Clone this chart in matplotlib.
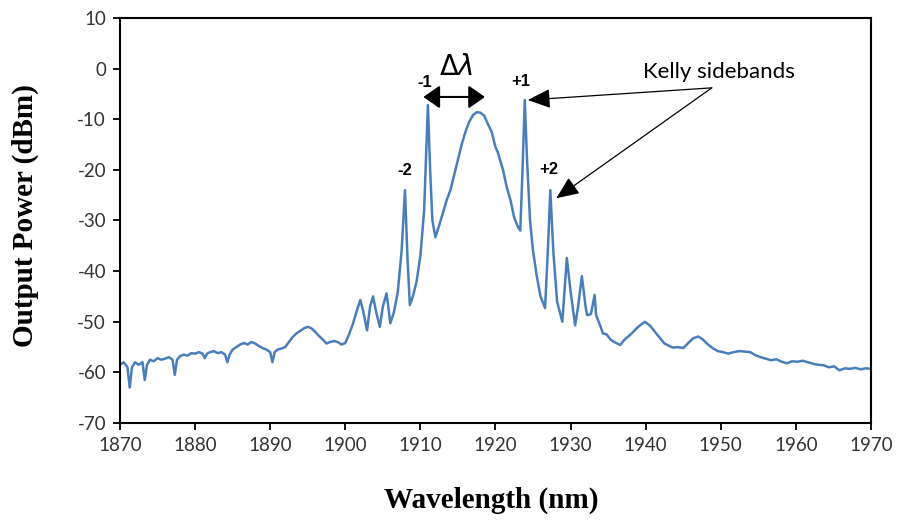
import numpy as np
import matplotlib
matplotlib.use("Agg")
import matplotlib.pyplot as plt

plt.rcParams["axes.unicode_minus"] = False

# Spectrum (wavelength in nm, power in dBm)
wavelength = [
    1870.0, 1870.5, 1871.0, 1871.3, 1871.6, 1872.0, 1872.5, 1873.0, 1873.3, 1873.6,
    1874.0, 1874.5, 1875.0, 1875.5, 1876.0, 1876.5, 1877.0, 1877.3, 1877.6, 1878.0,
    1878.5, 1879.0, 1879.5, 1880.0, 1880.5, 1881.0, 1881.3, 1881.6, 1882.0, 1882.5,
    1883.0, 1883.5, 1884.0, 1884.3, 1884.6, 1885.0, 1885.5, 1886.0, 1886.5, 1887.0,
    1887.5, 1888.0, 1888.5, 1889.0, 1889.5, 1890.0, 1890.3, 1890.6, 1891.0, 1891.5,
    1892.0, 1892.5, 1893.0, 1893.5, 1894.0, 1894.5, 1895.0, 1895.5, 1896.0, 1896.5,
    1897.0, 1897.5, 1898.0, 1898.5, 1899.0, 1899.5, 1900.0, 1900.5, 1901.0, 1901.5,
    1902.0, 1902.4, 1902.9, 1903.3, 1903.7, 1904.1, 1904.6, 1905.0, 1905.5, 1906.0,
    1906.5, 1907.0, 1907.5, 1907.95, 1908.3, 1908.6, 1909.0, 1909.5, 1910.0, 1910.5,
    1911.0, 1911.3, 1911.6, 1912.0, 1912.5, 1913.0, 1913.5, 1914.0, 1914.5, 1915.0,
    1915.5, 1916.0, 1916.5, 1917.0, 1917.5, 1918.0, 1918.5, 1919.0, 1919.5, 1920.0,
    1920.3, 1920.6, 1921.0, 1921.5, 1922.0, 1922.5, 1923.0, 1923.3, 1923.6, 1923.9,
    1924.2, 1924.6, 1925.0, 1925.5, 1926.0, 1926.6, 1927.0, 1927.3, 1927.7, 1928.2,
    1928.9, 1929.5, 1930.0, 1930.6, 1931.0, 1931.5, 1932.0, 1932.2, 1932.7, 1933.2,
    1933.4, 1934.0, 1934.3, 1934.8, 1935.3, 1935.8, 1936.6, 1937.2, 1938.0, 1939.0,
    1939.9, 1940.6, 1941.5, 1942.5, 1943.6, 1944.3, 1945.0, 1945.6, 1946.3, 1947.0,
    1947.6, 1948.3, 1949.0, 1949.6, 1950.3, 1951.0, 1951.7, 1952.5, 1953.2, 1953.9,
    1954.6, 1955.3, 1956.0, 1956.7, 1957.4, 1958.1, 1958.8, 1959.5, 1960.2, 1960.9,
    1961.6, 1962.3, 1963.0, 1963.7, 1964.4, 1965.1, 1965.8, 1966.5, 1967.2, 1967.9,
    1968.6, 1969.3, 1970.0,
]
power = [
    -58.5, -58.0, -59.0, -63.0, -59.0, -58.0, -58.5, -58.0, -61.5, -58.5,
    -57.5, -57.8, -57.2, -57.5, -57.3, -57.0, -57.5, -60.5, -57.5, -56.8,
    -56.5, -56.7, -56.2, -56.3, -56.0, -56.3, -57.2, -56.3, -56.0, -55.8,
    -56.2, -56.0, -56.5, -58.0, -56.5, -55.5, -55.0, -54.5, -54.2, -54.5,
    -54.0, -54.3, -54.8, -55.2, -55.5, -56.0, -58.0, -56.0, -55.5, -55.3,
    -55.0, -54.0, -53.0, -52.3, -51.8, -51.3, -51.0, -51.3, -52.0, -52.8,
    -53.5, -54.3, -54.0, -53.8, -54.0, -54.5, -54.2, -52.5, -50.5, -48.0,
    -45.7, -48.0, -51.7, -47.0, -45.0, -48.0, -51.0, -47.0, -44.4, -50.3,
    -48.0, -44.0, -36.0, -24.0, -38.0, -46.7, -45.0, -42.0, -37.0, -28.0,
    -7.2, -20.0, -30.0, -33.3, -31.0, -28.5, -26.0, -24.0, -21.0, -18.0,
    -15.0, -12.5, -10.5, -9.2, -8.6, -8.7, -9.3, -11.0, -12.5, -15.5,
    -16.5, -18.0, -20.0, -23.4, -26.0, -29.5, -31.3, -32.0, -20.0, -6.2,
    -18.0, -30.0, -36.0, -41.0, -45.0, -47.3, -35.0, -24.0, -36.0, -46.0,
    -50.0, -37.4, -44.0, -50.7, -47.0, -41.0, -47.0, -48.7, -48.5, -44.7,
    -48.7, -51.0, -52.3, -52.5, -53.5, -54.0, -54.6, -53.5, -52.5, -51.0,
    -50.0, -50.8, -52.5, -54.3, -55.1, -55.0, -55.2, -54.3, -53.3, -52.9,
    -53.5, -54.5, -55.3, -55.8, -56.0, -56.3, -56.0, -55.8, -55.9, -56.0,
    -56.6, -57.0, -57.3, -57.6, -57.4, -57.9, -58.2, -57.8, -57.9, -57.7,
    -58.0, -58.3, -58.5, -58.6, -59.0, -58.8, -59.6, -59.2, -59.3, -59.1,
    -59.4, -59.2, -59.3,
]

x_ticks = np.arange(1870, 1971, 10)
y_ticks = np.arange(-70, 11, 10)

# sideband labels: (text, wavelength, power)
order_labels = [("-2", 1907.9, -20.2), ("-1", 1910.6, -2.8),
                ("+1", 1923.4, -2.6), ("+2", 1927.1, -20.0)]

fig = plt.figure(figsize=(9.04, 5.23), dpi=100)
ax = fig.add_axes([0.1327, 0.1912, 0.8308, 0.7744])

ax.plot(wavelength, power, color="#4a7ebb", linewidth=1.8)

ax.set_xlim(1870, 1970)
ax.set_ylim(-70, 10)
ax.set_xticks(x_ticks)
ax.set_yticks(y_ticks)
ax.tick_params(direction="out", length=5, width=1.3, labelsize=13.5,
               colors="black", labelcolor="#333333", pad=5)
for lbl in ax.get_xticklabels() + ax.get_yticklabels():
    lbl.set_family("Lato")
for sp in ax.spines.values():
    sp.set_linewidth(1.5)

# axis titles
fig.text(0.5437, 1 - 500 / 523, "Wavelength (nm)", family="Liberation Serif",
         fontweight="bold", fontsize=21, ha="center", va="center")
fig.text(25 / 904, 1 - 216 / 523, "Output Power (dBm)", family="Liberation Serif",
         fontweight="bold", fontsize=21, ha="center", va="center", rotation=90)

for txt, xv, yv in order_labels:
    ax.text(xv, yv, txt, ha="center", va="center", fontsize=12,
            fontweight="bold", family="Liberation Sans")

# delta lambda double arrow
ax.annotate("", xy=(1910.4, -5.6), xytext=(1918.6, -5.6),
            arrowprops=dict(arrowstyle="<|-|>,head_length=0.5,head_width=0.35",
                            color="black", lw=1.5, mutation_scale=20,
                            shrinkA=0, shrinkB=0))
ax.text(1914.8, 0.4, r"$\Delta\lambda$", ha="center", va="center", fontsize=20)

# Kelly sidebands pointers
ax.text(1949.7, -0.7, "Kelly sidebands", ha="center", va="center",
        fontsize=16, family="Lato")
for tip in [(1924.3, -6.2), (1928.1, -25.6)]:
    ax.annotate("", xy=tip, xytext=(1948.8, -3.8),
                arrowprops=dict(arrowstyle="-|>,head_length=0.7,head_width=0.3",
                                color="black", lw=0.9, mutation_scale=20,
                                shrinkA=0, shrinkB=0))

fig.savefig("out.png", dpi=100)
